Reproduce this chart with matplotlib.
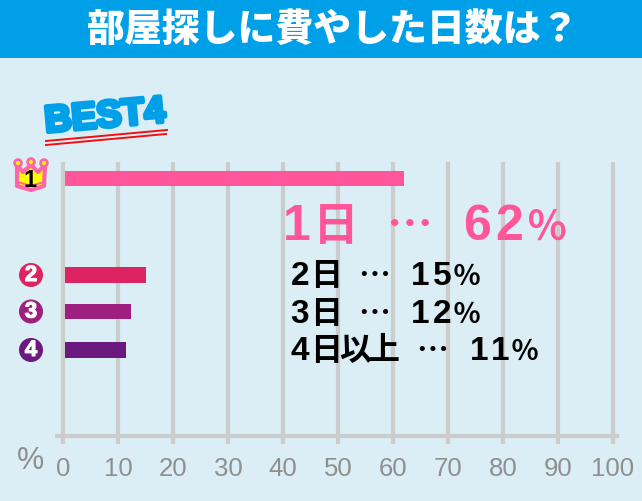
import matplotlib
matplotlib.use('Agg')
import matplotlib.pyplot as plt
from matplotlib.patches import Rectangle, Circle, Polygon
import matplotlib.patheffects as pe

W, H = 642, 501
LATIN = 'Liberation Sans'
JP = 'Noto Sans CJK JP'

title = '部屋探しに費やした日数は？'
bar_values = [62, 15, 12.4, 11.5]
bar_colors = ['#ff5599', '#dc2560', '#9d1f80', '#6a1a7e']
rank_labels = ['2', '3', '4']
day_labels = ['1日', '2日', '3日', '4日以上']
pct_labels = ['62％', '15％', '12％', '11％']
xticks = [0, 10, 20, 30, 40, 50, 60, 70, 80, 90, 100]

BG = '#dbeef6'
BLUE = '#00a0e9'
GRID = '#cccccc'
TICK = '#8f8f8f'

fig = plt.figure(figsize=(W / 100, H / 100), dpi=100, facecolor=BG)

# chart axes: x=0 at px 63, x=100 at px 613, y is px from the top
ax = fig.add_axes([63 / W, 1 - 436 / H, 550 / W, 274 / H], zorder=1)
ax.patch.set_alpha(0)
ax.set_xlim(0, 100)
ax.set_ylim(436, 162)
for s in ax.spines.values():
    s.set_visible(False)
ax.set_yticks([])
ax.set_xticks(xticks)
ax.tick_params(axis='x', length=0, pad=15, labelsize=18.5, labelcolor=TICK)
for lab in ax.get_xticklabels():
    lab.set_family(LATIN)

# overlay in pixel coords for the header and decorations, sits above the grid
deco = fig.add_axes([0, 0, 1, 1], zorder=2)
deco.set_xlim(0, W)
deco.set_ylim(H, 0)
deco.axis('off')

# grid lines
for t in xticks:
    ax.plot([t, t], [162, 444], color=GRID, lw=3, clip_on=False, solid_capstyle='butt', zorder=1)
ax.plot([-1.5, 101], [436, 436], color=GRID, lw=3, clip_on=False, solid_capstyle='butt', zorder=1)

# bars
bar_y = [178.5, 275, 311.5, 350]
ax.barh(bar_y, [v - 0.4 for v in bar_values], height=15.5, left=0.4, color=bar_colors, zorder=3)

# header
deco.add_patch(Rectangle((0, 0), W, 58, color=BLUE, lw=0))
deco.text(333, 30, title, color='white', ha='center', va='center', fontsize=27.3,
          family=JP, fontweight='heavy')

# BEST4 with red scribble
deco.text(105, 117, 'BEST4', color=BLUE, ha='center', va='center', fontsize=27, rotation=5,
          family=LATIN, fontweight='bold',
          path_effects=[pe.withStroke(linewidth=3, foreground=BLUE)])
deco.plot([46, 167], [141, 130], color='#f01010', lw=1.4)
deco.plot([46, 166], [145, 134], color='#f01010', lw=1.4)

# crown
crown = [(17, 165), (23, 172), (31, 165), (38, 172), (45, 165), (44, 186), (31, 190), (17, 186)]
deco.add_patch(Polygon(crown, closed=True, fc='#ffff00', ec='#ff66a8', lw=3, joinstyle='round', zorder=3))
for cx, cy in [(18, 163), (31, 162), (44, 163)]:
    deco.add_patch(Circle((cx, cy), 3.4, fc='#ffff00', ec='#ff66a8', lw=2, zorder=4))
deco.plot([18, 31, 44], [182, 186, 182], color='#ff66a8', lw=1.5, zorder=4)
deco.text(30.5, 187, '1', color='black', ha='center', va='baseline', fontsize=17, fontweight='bold',
          family=LATIN, zorder=5)

# rank badges
for y, lab, c in zip(bar_y[1:], rank_labels, bar_colors[1:]):
    deco.add_patch(Circle((31, y), 12, fc=c, ec='none', zorder=3))
    deco.text(31, y + 0.5, lab, color='white', ha='center', va='center', fontsize=16,
              fontweight='bold', family=LATIN, zorder=4,
              path_effects=[pe.withStroke(linewidth=0.8, foreground='white')])

# value text is placed glyph by glyph because the source has wide tracking
def put_glyphs(text, centers, base, size_digit, size_jp, color):
    for ch, cx in zip(text, centers):
        if ch.isascii():
            deco.text(cx, base, ch, color=color, ha='center', va='baseline', fontsize=size_digit,
                      fontweight='bold', family=LATIN, zorder=5)
        else:
            # the percent sign is a bit narrower than the kanji in the source
            fs = size_jp * 0.88 if ch == '％' else size_jp
            deco.text(cx, base, ch, color=color, ha='center', va='baseline', fontsize=fs,
                      fontweight='bold', family=JP, zorder=5)

rows = [
    (240, 36, 33, '#ff5599', [297, 336], 410, [477, 509, 547]),
    (285, 24, 23, 'black', [300, 326], 374, [420.5, 442, 466.5]),
    (323, 24, 23, 'black', [300, 326], 374, [420.5, 442, 466.5]),
    (360, 24, 23, 'black', [300, 326, 355, 384], 432, [479, 500, 525]),
]
for (base, sd, sj, c, day_x, dots_x, pct_x), d, p in zip(rows, day_labels, pct_labels):
    put_glyphs(d, day_x, base, sd, sj, c)
    put_glyphs('…', [dots_x], base, sd, sj, c)
    put_glyphs(p, pct_x, base, sd, sj, c)

deco.text(31, 461, '%', color=TICK, ha='center', va='center', fontsize=22, family=LATIN)

fig.savefig('out.png', dpi=100, facecolor=BG)
